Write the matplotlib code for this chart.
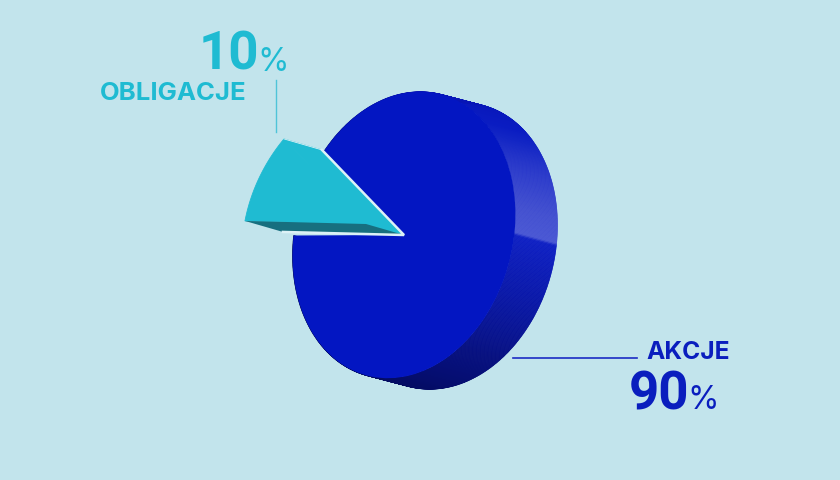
import numpy as np
import matplotlib
matplotlib.use('Agg')
import matplotlib.pyplot as plt
from matplotlib.collections import PolyCollection
from matplotlib.transforms import Affine2D

labels = ['OBLIGACJE', 'AKCJE']
shares = [10, 90]

BG = '#c2e4ec'
CYAN = '#1fbbd2'
CYAN_DARK = '#176f7f'
BLUE = '#0316c2'
TEXT_BLUE = '#0a1ebe'
LIGHT = '#dcf1f6'
START = 141

plt.rcParams['font.family'] = ['Inter', 'DejaVu Sans']

# the picture is flat, so each disc is a unit circle pushed through a matrix
# (a, k, m, r) -> x = a*u + k*v, y = m*u - r*v
CENTER = (404, 235)
BLUE_M = (111, 10, -8, 143)
CYAN_M = (122.3, 20.7, -4.3, 140.5)
DEPTH = (42, 11)          # blue side goes right and down
CYAN_OFF = (-38, -11)     # cyan side goes left and up


def to_px(matrix, t, off=(0, 0)):
    a, k, m, r = matrix
    u, v = np.cos(np.radians(t)), np.sin(np.radians(t))
    return CENTER[0] + off[0] + a*u + k*v, CENTER[1] + off[1] + m*u - r*v


def matrix_tf(matrix, off=(0, 0)):
    a, k, m, r = matrix
    return Affine2D.from_values(a, m, k, -r, CENTER[0]+off[0], CENTER[1]+off[1])


def side_colors(t):
    # rim shading by angle, with the hard edge under the highlight
    t = ((np.asarray(t) + 180) % 360) - 180
    stops = [-180, -125, -90, -55, -25, -3, -2, 8, 25, 42, 50, 90, 180]
    cols = ['#040b5c', '#040b5c', '#040c66', '#071080', '#0a18aa', '#0f20c4',
            '#4a57d4', '#4350d0', '#2c3bcb', '#1225c4', '#0a1cc2', '#0714b4',
            '#040b5c']
    rgb = np.array([matplotlib.colors.to_rgb(c) for c in cols])
    return np.column_stack([np.interp(t, stops, rgb[:, i]) for i in range(3)])


fig = plt.figure(figsize=(8.4, 4.8), dpi=100, facecolor=BG)
ax = fig.add_axes([0, 0, 1, 1])

angles = np.cumsum([0] + shares) * 3.6 + START
end_cyan = angles[1]

# blue rim, drawn behind the faces
t = np.arange(end_cyan, angles[2] + 0.5, 0.5)
quads = []
for t0, t1 in zip(t[:-1], t[1:]):
    quads.append([to_px(BLUE_M, t0), to_px(BLUE_M, t1),
                  to_px(BLUE_M, t1, DEPTH), to_px(BLUE_M, t0, DEPTH)])
fc = side_colors((t[:-1] + t[1:]) / 2)
ax.add_collection(PolyCollection(quads, facecolors=fc, edgecolors=fc,
                                 linewidths=0.5, zorder=1))

# front faces
wedges, _ = ax.pie(shares, startangle=START, colors=[CYAN, BLUE], radius=1,
                   wedgeprops={'linewidth': 0})
wedges[0].set_transform(matrix_tf(CYAN_M) + ax.transData)
wedges[1].set_transform(matrix_tf(BLUE_M) + ax.transData)
wedges[0].set_edgecolor(CYAN)
wedges[0].set_linewidth(0.6)
wedges[0].set_zorder(3)
wedges[1].set_zorder(2)

# cyan slice: back face, top side and the dark underside
arc = np.linspace(START, end_cyan, 40)
back = [CENTER[0] + CYAN_OFF[0], CENTER[1] + CYAN_OFF[1]]
back_pts = [back] + [to_px(CYAN_M, a, CYAN_OFF) for a in arc]
ax.fill(*zip(*back_pts), facecolor=CYAN, edgecolor=CYAN, lw=0.6, zorder=3)
ax.fill(*zip(*[CENTER, to_px(CYAN_M, START), to_px(CYAN_M, START, CYAN_OFF), back]),
        facecolor=CYAN, edgecolor=CYAN, lw=0.6, zorder=3)
ax.fill(*zip(*[CENTER, to_px(CYAN_M, end_cyan), to_px(CYAN_M, end_cyan, CYAN_OFF), back]),
        color=CYAN_DARK, lw=0, zorder=5)

# pale line along the cut
ax.plot(*zip(*[to_px(CYAN_M, START), CENTER, to_px(CYAN_M, end_cyan)]),
        color=LIGHT, lw=1.8, solid_joinstyle='miter', zorder=6)
ax.plot(*zip(*[to_px(CYAN_M, START, CYAN_OFF), to_px(CYAN_M, START)]),
        color=LIGHT, lw=0.6, zorder=6)

# leader lines
ax.plot([276, 276], [80, 132], color='#4fc4d8', lw=1, zorder=6)
ax.plot([513, 637], [358, 358], color='#1c2cc4', lw=1.2, zorder=6)

# labels
ax.text(247, 100, labels[0], color=CYAN, fontsize=18.5, fontweight='bold',
        ha='right', va='baseline')
ax.text(259, 70, str(shares[0]), color=CYAN, fontsize=38, fontweight='bold',
        family='Roboto', ha='right', va='baseline')
ax.text(257, 71, '%', color=CYAN, fontsize=23, ha='left', va='baseline')
ax.text(730, 359, labels[1], color=TEXT_BLUE, fontsize=17.7, fontweight='bold',
        ha='right', va='baseline')
ax.text(689, 409, str(shares[1]), color=TEXT_BLUE, fontsize=38, fontweight='bold',
        family='Roboto', ha='right', va='baseline')
ax.text(687, 409, '%', color=TEXT_BLUE, fontsize=23, ha='left', va='baseline')

ax.set_aspect('auto')
ax.set_xlim(0, 840)
ax.set_ylim(480, 0)
ax.axis('off')

fig.savefig('out.png', dpi=100, facecolor=BG)
